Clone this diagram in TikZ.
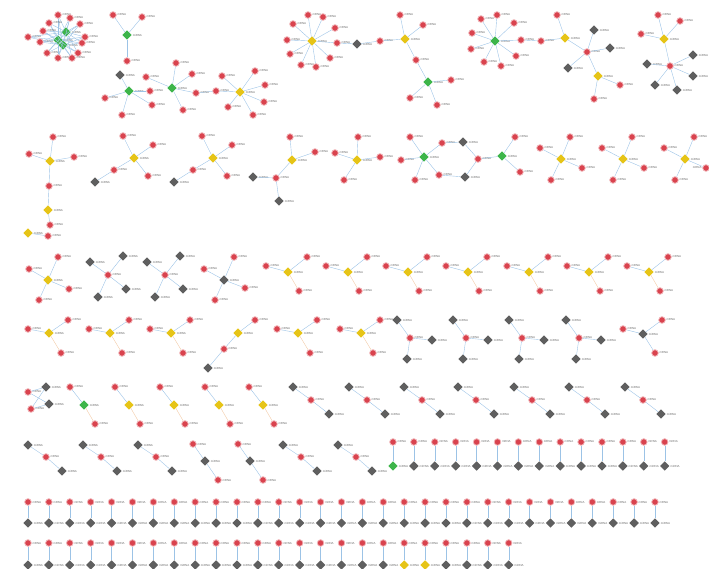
\documentclass[tikz,border=0pt]{standalone}
\usepackage{fontspec}
\usepackage{tikz}
\usetikzlibrary{shapes.geometric,positioning}
\newfontfamily\lblfont{Liberation Sans}
\definecolor{mrnacol}{HTML}{d9434e}
\definecolor{mirgold}{HTML}{e6c417}
\definecolor{mirgreen}{HTML}{3db54a}
\definecolor{mirgray}{HTML}{5f5f5f}
\definecolor{linkcol}{HTML}{9cc3e6}
\definecolor{linkpeach}{HTML}{f2c9a4}
\definecolor{lblcol}{HTML}{6e6e6e}

\begin{document}
\begin{tikzpicture}[x=1pt,y=-1pt,
  lbl/.style={font=\lblfont\fontsize{2.9}{3.1}\selectfont, text=lblcol, inner sep=0.6pt},
  mrna/.style={circle, fill=mrnacol, draw=mrnacol!40, line width=0.8pt, minimum size=6.6pt, inner sep=0pt, label={[lbl]#1:mRNA}},
  mrna/.default=right,
  mirbox/.style={diamond, minimum size=9.5pt, inner sep=0pt, label={[lbl]right:miRNA}},
  ymir/.style={mirbox, fill=mirgold},
  gmir/.style={mirbox, fill=mirgreen},
  kmir/.style={mirbox, fill=mirgray},
  link/.style={draw=linkcol, line width=0.4pt},
  linkp/.style={draw=linkpeach, line width=0.4pt}]
\useasboundingbox (0,0) rectangle (709,569);

% ---- top band
% dense green hub
\node[gmir] (g1) at (58,40) {};
\node[gmir] (g2) at (66,32) {};
\node[gmir] (g3) at (63,45) {};
\foreach \px/\py [count=\i] in {58/15,70/18,49/23,80/24,43/31,28/37,85/37,40/42,82/43,47/53,78/53,58/58,72/58} {
  \node[mrna] (hub\i) at (\px,\py) {};
  \draw[link] (hub\i) -- (g1);
  \draw[link] (hub\i) -- (g2);
  \draw[link] (hub\i) -- (g3);
}

\node[gmir] (g4) at (127,35) {};
\foreach \px/\py [count=\i] in {113/15,142/17,127/61} {
  \node[mrna] (ga\i) at (\px,\py) {};
  \draw[link] (g4) -- (ga\i);
}

\node[kmir] (k1) at (120,75) {};
\node[mrna] (gb0) at (146,77) {};
\node[gmir] (g5) at (129,91) {};
\draw[link] (g5) -- (k1);
\foreach \px/\py [count=\i] in {105/98,150/91,152/105,122/115} {
  \node[mrna] (gb\i) at (\px,\py) {};
  \draw[link] (g5) -- (gb\i);
}
\node[gmir] (g6) at (172,88) {};
\draw[link] (gb0) -- (g6);
\foreach \px/\py [count=\i] in {176/63,192/74,183/110,196/93} {
  \node[mrna] (gc\i) at (\px,\py) {};
  \draw[link] (g6) -- (gc\i);
}
\node[ymir] (y1) at (240,92) {};
\foreach \px/\py [count=\i] in {222/76,216/91,255/71,265/85,264/102,253/115,228/107} {
  \node[mrna] (ya\i) at (\px,\py) {};
  \draw[link] (y1) -- (ya\i);
}
\draw[link] (gc4) -- (ya2);

\node[ymir] (y2) at (312,41) {};
\foreach \px/\py [count=\i] in {308/15,323/17,293/24,335/28,287/40,337/43,290/54,330/58,301/65,316/67} {
  \node[mrna] (yb\i) at (\px,\py) {};
  \draw[link] (y2) -- (yb\i);
}
\node[kmir] (k2) at (357,44) {};
\node[mrna] (yc0) at (380,41) {};
\node[ymir] (y3) at (405,39) {};
\draw[link] (yb6) -- (k2) -- (yc0) -- (y3);
\foreach \px/\py [count=\i] in {400/15,423/25,416/60} {
  \node[mrna] (yc\i) at (\px,\py) {};
  \draw[link] (y3) -- (yc\i);
}
\node[gmir] (g7) at (428,82) {};
\draw[link] (yc3) -- (g7);
\foreach \px/\py [count=\i] in {451/80,410/98,437/105} {
  \node[mrna] (gd\i) at (\px,\py) {};
  \draw[link] (g7) -- (gd\i);
}

\node[gmir] (g8) at (495,41) {};
\foreach \px/\py [count=\i] in {481/19,497/15,514/23,472/33,471/49,484/62,501/66,516/56,521/40} {
  \node[mrna] (ge\i) at (\px,\py) {};
  \draw[link] (g8) -- (ge\i);
}
\node[mrna] (ge0) at (541,41) {};
\node[ymir] (y4) at (565,38) {};
\draw[link] (ge9) -- (ge0) -- (y4);
\node[mrna] (yd1) at (557,15) {};
\node[mrna] (yd2) at (587,52) {};
\draw[link] (y4) -- (yd1);
\draw[link] (y4) -- (yd2);
\foreach \px/\py [count=\i] in {594/30,610/48,568/68} {
  \node[kmir] (kd\i) at (\px,\py) {};
  \draw[link] (yd2) -- (kd\i);
}
\node[ymir] (y5) at (598,76) {};
\draw[link] (yd2) -- (y5);
\foreach \px/\py [count=\i] in {620/85,594/99} {
  \node[mrna] (ye\i) at (\px,\py) {};
  \draw[link] (y5) -- (ye\i);
}

\node[ymir] (y6) at (664,39) {};
\foreach \px/\py [count=\i] in {658/15,680/21,641/34,670/66} {
  \node[mrna] (yf\i) at (\px,\py) {};
  \draw[link] (y6) -- (yf\i);
}
\foreach \px/\py [count=\i] in {693/55,647/64,693/76,655/85,677/90} {
  \node[kmir] (kf\i) at (\px,\py) {};
  \draw[link] (yf4) -- (kf\i);
}

% ---- second band
\node[ymir] (y7) at (50,161) {};
\foreach \px/\py [count=\i] in {53/137,29/154,74/157,49/186} {
  \node[mrna] (yg\i) at (\px,\py) {};
  \draw[link] (y7) -- (yg\i);
}
\node[ymir] (y8) at (48,210) {};
\node[mrna] (yh1) at (50,225) {};
\node[ymir] (y9) at (28,233) {};
\node[mrna] (yh2) at (48,236) {};
\draw[link] (yg4) -- (y8) -- (yh1);
\draw[link] (y9) -- (yh2);

\foreach \X [count=\i] in {134,213} {
  \node[ymir] (st\i) at (\X,158) {};
  \foreach \dx/\dy [count=\j] in {-11/-22,19/-13,-20/12,14/18} {
    \node[mrna] (st\i-\j) at (\X+\dx,158+\dy) {};
    \draw[link] (st\i) -- (st\i-\j);
  }
  \node[kmir] (st\i-k) at (\X-39,182) {};
  \draw[link] (st\i-3) -- (st\i-k);
}

\node[kmir] (k5) at (253,177) {};
\node[mrna] (yi0) at (276,178) {};
\node[kmir] (k6) at (279,201) {};
\node[ymir] (y10) at (292,160) {};
\draw[link] (k5) -- (yi0) -- (k6);
\draw[link] (yi0) -- (y10);
\foreach \px/\py [count=\i] in {290/137,315/152} {
  \node[mrna] (yi\i) at (\px,\py) {};
  \draw[link] (y10) -- (yi\i);
}
\node[ymir] (y11) at (357,160) {};
\foreach \px/\py [count=\i] in {358/137,335/153,380/157,344/180} {
  \node[mrna] (yj\i) at (\px,\py) {};
  \draw[link] (y11) -- (yj\i);
}

\node[gmir] (g9) at (424,157) {};
\foreach \px/\py [count=\i] in {410/137,401/160,415/180,439/175,442/143} {
  \node[mrna] (gf\i) at (\px,\py) {};
  \draw[link] (g9) -- (gf\i);
}
\node[kmir] (k7) at (463,142) {};
\node[kmir] (k8) at (465,177) {};
\node[mrna] (gg0) at (478,159) {};
\node[gmir] (g10) at (502,156) {};
\draw[link] (gf5) -- (k7) -- (gg0);
\draw[link] (gf4) -- (k8) -- (gg0);
\draw[link] (gg0) -- (g10);
\foreach \px/\py [count=\i] in {515/137,520/172} {
  \node[mrna] (gg\i) at (\px,\py) {};
  \draw[link] (g10) -- (gg\i);
}

\foreach \X [count=\i] in {561,623,685} {
  \node[ymir] (sq\i) at (\X,159) {};
  \foreach \dx/\dy [count=\j] in {-21/-11,9/-22,21/9,-10/21} {
    \ifnum\i=3 \ifnum\j=3 \def\sd{left}\else\def\sd{right}\fi \else\def\sd{right}\fi
    \node[mrna=\sd] (sq\i-\j) at (\X+\dx,159+\dy) {};
    \draw[link] (sq\i) -- (sq\i-\j);
  }
}

% ---- third band
\node[ymir] (y12) at (48,280) {};
\foreach \px/\py [count=\i] in {58/257,29/269,69/289,39/300} {
  \node[mrna] (yk\i) at (\px,\py) {};
  \draw[link] (y12) -- (yk\i);
}
\foreach \X [count=\i] in {108,165} {
  \node[mrna] (rh\i) at (\X,275) {};
  \foreach \dx/\dy [count=\j] in {-18/-13,15/-19,18/14,-10/22} {
    \node[kmir] (rh\i-\j) at (\X+\dx,275+\dy) {};
    \draw[link] (rh\i) -- (rh\i-\j);
  }
}
\node[kmir] (k9) at (224,280) {};
\foreach \px/\py [count=\i] in {234/257,204/269,245/288,215/300} {
  \node[mrna] (kg\i) at (\px,\py) {};
  \draw[link] (k9) -- (kg\i);
}
\foreach \X [count=\i] in {288,348,408,468,529,589,649} {
  \node[ymir] (ta\i) at (\X,272) {};
  \node[mrna] (ta\i-1) at (\X+19,257) {};
  \node[mrna] (ta\i-2) at (\X-22,266) {};
  \node[mrna] (ta\i-3) at (\X+11,291) {};
  \draw[link] (ta\i) -- (ta\i-1);
  \draw[link] (ta\i) -- (ta\i-2);
  \draw[linkp] (ta\i) -- (ta\i-3);
}

\foreach \X [count=\i] in {49,110,171,298,361} {
  \node[ymir] (tb\i) at (\X,333) {};
  \node[mrna] (tb\i-1) at (\X+19,320) {};
  \node[mrna] (tb\i-2) at (\X-21,329) {};
  \node[mrna] (tb\i-3) at (\X+12,353) {};
  \draw[link] (tb\i) -- (tb\i-1);
  \draw[link] (tb\i) -- (tb\i-2);
  \draw[linkp] (tb\i) -- (tb\i-3);
}
\node[ymir] (y13) at (238,333) {};
\node[mrna] (yl1) at (255,320) {};
\node[mrna] (yl2) at (224,349) {};
\node[kmir] (k10) at (208,368) {};
\draw[link] (yl1) -- (y13) -- (yl2) -- (k10);

\foreach \X [count=\i] in {397,453,509,566} {
  \node[kmir] (tc\i) at (\X,320) {};
  \node[mrna] (tc\i-r) at (\X+13,338) {};
  \node[kmir] (tc\i-a) at (\X+35,340) {};
  \node[kmir] (tc\i-b) at (\X+10,359) {};
  \draw[link] (tc\i) -- (tc\i-r) -- (tc\i-a);
  \draw[link] (tc\i-r) -- (tc\i-b);
}
\node[kmir] (k11) at (643,334) {};
\foreach \px/\py [count=\i] in {623/329,662/320,655/353} {
  \node[mrna] (km\i) at (\px,\py) {};
  \draw[link] (k11) -- (km\i);
}

% ---- fourth band
\node[kmir] (k12) at (46,387) {};
\node[kmir] (k13) at (49,404) {};
\node[mrna] (kn1) at (28,392) {};
\node[mrna] (kn2) at (31,409) {};
\foreach \r in {kn1,kn2} {
  \draw[link] (\r) -- (k12);
  \draw[link] (\r) -- (k13);
}
\foreach \X/\st [count=\i] in {70/gmir,115/ymir,160/ymir,205/ymir,249/ymir} {
  \node[mrna] (ua\i-1) at (\X,387) {};
  \node[\st] (ua\i) at (\X+14,405) {};
  \node[mrna] (ua\i-2) at (\X+25,424) {};
  \draw[link] (ua\i-1) -- (ua\i);
  \draw[linkp] (ua\i) -- (ua\i-2);
}
\foreach \X [count=\i] in {293,349,404,458,514,569,625} {
  \node[kmir] (ub\i-1) at (\X,387) {};
  \node[mrna] (ub\i) at (\X+18,400) {};
  \node[kmir] (ub\i-2) at (\X+36,414) {};
  \draw[link] (ub\i-1) -- (ub\i) -- (ub\i-2);
}
\foreach \X [count=\i] in {28,83,138,283,338} {
  \node[kmir] (uc\i-1) at (\X,445) {};
  \node[mrna] (uc\i) at (\X+18,457) {};
  \node[kmir] (uc\i-2) at (\X+34,471) {};
  \draw[link] (uc\i-1) -- (uc\i) -- (uc\i-2);
}
\foreach \X [count=\i] in {193,238} {
  \node[mrna] (ud\i-1) at (\X,444) {};
  \node[kmir] (ud\i) at (\X+12,461) {};
  \node[mrna] (ud\i-2) at (\X+25,480) {};
  \draw[link] (ud\i-1) -- (ud\i) -- (ud\i-2);
}

% ---- paired rows
\foreach \k in {0,...,13} {
  \ifnum\k=0 \def\st{gmir}\else\def\st{kmir}\fi
  \node[mrna] (pa\k) at ({393+20.9*\k},442) {};
  \node[\st] (qa\k) at ({393+20.9*\k},466) {};
  \draw[link] (pa\k) -- (qa\k);
}
\foreach \k in {0,...,30} {
  \node[mrna] (pb\k) at ({28+20.9*\k},502) {};
  \node[kmir] (qb\k) at ({28+20.9*\k},523) {};
  \draw[link] (pb\k) -- (qb\k);
}
\foreach \k in {0,...,23} {
  \ifnum\k=18 \def\st{ymir}\else\ifnum\k=19 \def\st{ymir}\else\def\st{kmir}\fi\fi
  \node[mrna] (pc\k) at ({28+20.9*\k},543) {};
  \node[\st] (qc\k) at ({28+20.9*\k},565) {};
  \draw[link] (pc\k) -- (qc\k);
}
\end{tikzpicture}
\end{document}
